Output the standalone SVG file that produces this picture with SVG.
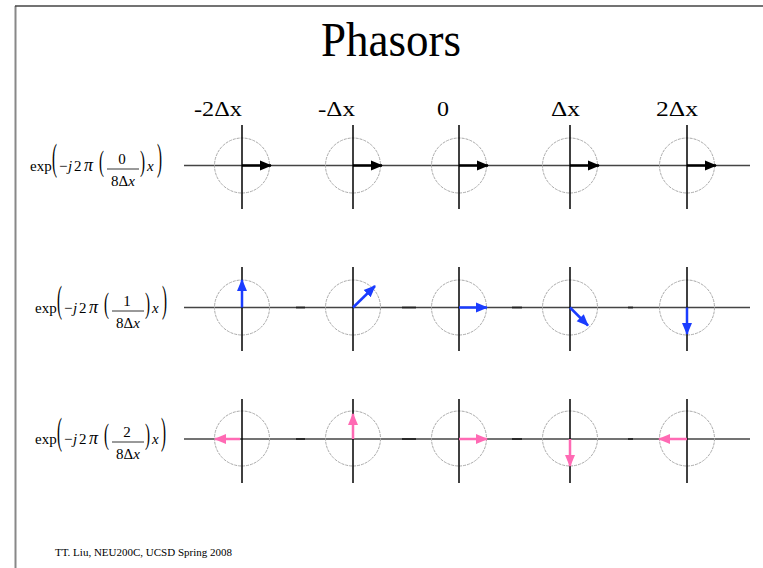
<svg xmlns="http://www.w3.org/2000/svg" width="763" height="568" viewBox="0 0 763 568">
<style>
text{font-family:"Liberation Serif","Times New Roman",serif;fill:#000}
.ax{stroke:#444;stroke-width:1.5;fill:none}
.vx{stroke:#000;stroke-width:1.5;fill:none}
.cir{stroke:#aaa;stroke-width:1;stroke-dasharray:3 1;fill:none}
.dash{stroke:#222;stroke-width:1.8}
.bk{stroke:#000;stroke-width:2.5;marker-end:url(#hk)}
.bl{stroke:#1a3cff;stroke-width:2.5;marker-end:url(#hb)}
.pk{stroke:#ff6ab4;stroke-width:2.5;marker-end:url(#hp)}
.f{font-size:15px}
.i{font-style:italic}
.pi{font-style:italic;font-size:18px}
.bar{stroke:#000;stroke-width:0.8}
</style>
<defs>
<marker id="hk" markerUnits="userSpaceOnUse" markerWidth="12" markerHeight="12" viewBox="0 0 12 12" refX="11" refY="6" orient="auto"><path d="M0,1 L12,6 L0,11 Z" fill="#000"/></marker>
<marker id="hb" markerUnits="userSpaceOnUse" markerWidth="12" markerHeight="12" viewBox="0 0 12 12" refX="11" refY="6" orient="auto"><path d="M0,1 L12,6 L0,11 Z" fill="#1a3cff"/></marker>
<marker id="hp" markerUnits="userSpaceOnUse" markerWidth="12" markerHeight="12" viewBox="0 0 12 12" refX="11" refY="6" orient="auto"><path d="M0,1 L12,6 L0,11 Z" fill="#ff6ab4"/></marker>
<g id="circ"><circle class="cir" cx="0" cy="0" r="27.5"/></g>
</defs>
<rect width="763" height="568" fill="#fff"/>
<g id="frame">
<line x1="15.5" y1="6" x2="15.5" y2="568" stroke="#888" stroke-width="2"/>
<line x1="15" y1="6" x2="763" y2="6" stroke="#444" stroke-width="1.5"/>
</g>
<g id="title"><text x="391" y="56" font-size="48" text-anchor="middle" textLength="140" lengthAdjust="spacingAndGlyphs">Phasors</text></g>
<g id="col-labels" font-size="22">
<text x="194" y="116" textLength="48" lengthAdjust="spacingAndGlyphs">-2Δx</text>
<text x="318" y="116" textLength="37" lengthAdjust="spacingAndGlyphs">-Δx</text>
<text x="437" y="116" textLength="12" lengthAdjust="spacingAndGlyphs">0</text>
<text x="551" y="116" textLength="29" lengthAdjust="spacingAndGlyphs">Δx</text>
<text x="656" y="116" textLength="42" lengthAdjust="spacingAndGlyphs">2Δx</text>
</g>
<g id="formula1">
<text class="f" x="30" y="171">exp</text>
<text class="f" x="52" y="171" transform="translate(0,-257) scale(1,2.5)">(</text>
<text class="f" x="59 68 74 84" y="171">−<tspan class="i">j</tspan>2<tspan class="pi">π</tspan></text>
<text class="f" x="99" y="171" transform="translate(0,-171) scale(1,2)">(</text>
<text class="f" x="122" y="164" text-anchor="middle">0</text>
<line class="bar" x1="107" y1="169" x2="139" y2="169"/>
<text class="f" x="123" y="186" text-anchor="middle">8Δ<tspan class="i">x</tspan></text>
<text class="f" x="140" y="171" transform="translate(0,-171) scale(1,2)">)</text>
<text class="f i" x="147" y="171">x</text>
<text class="f" x="157" y="171" transform="translate(0,-257) scale(1,2.5)">)</text>
</g>
<g id="formula2">
<text class="f" x="35" y="313">exp</text>
<text class="f" x="57" y="313" transform="translate(0,-470) scale(1,2.5)">(</text>
<text class="f" x="64 73 79 89" y="313">−<tspan class="i">j</tspan>2<tspan class="pi">π</tspan></text>
<text class="f" x="104" y="313" transform="translate(0,-313) scale(1,2)">(</text>
<text class="f" x="127" y="306" text-anchor="middle">1</text>
<line class="bar" x1="112" y1="311" x2="144" y2="311"/>
<text class="f" x="128" y="328" text-anchor="middle">8Δ<tspan class="i">x</tspan></text>
<text class="f" x="145" y="313" transform="translate(0,-313) scale(1,2)">)</text>
<text class="f i" x="152" y="313">x</text>
<text class="f" x="162" y="313" transform="translate(0,-470) scale(1,2.5)">)</text>
</g>
<g id="formula3">
<text class="f" x="35" y="444">exp</text>
<text class="f" x="57" y="444" transform="translate(0,-666) scale(1,2.5)">(</text>
<text class="f" x="64 73 79 89" y="444">−<tspan class="i">j</tspan>2<tspan class="pi">π</tspan></text>
<text class="f" x="104" y="444" transform="translate(0,-444) scale(1,2)">(</text>
<text class="f" x="127" y="437" text-anchor="middle">2</text>
<line class="bar" x1="112" y1="442" x2="144" y2="442"/>
<text class="f" x="128" y="459" text-anchor="middle">8Δ<tspan class="i">x</tspan></text>
<text class="f" x="145" y="444" transform="translate(0,-444) scale(1,2)">)</text>
<text class="f i" x="152" y="444">x</text>
<text class="f" x="161" y="444" transform="translate(0,-666) scale(1,2.5)">)</text>
</g>
<g id="row1">
<line class="ax" x1="184" y1="165.5" x2="750" y2="165.5"/>
<use href="#circ" x="242" y="165.5"/><use href="#circ" x="353" y="165.5"/><use href="#circ" x="459" y="165.5"/><use href="#circ" x="570" y="165.5"/><use href="#circ" x="687" y="165.5"/>
<line class="vx" x1="242" y1="125" x2="242" y2="209"/><line class="vx" x1="353" y1="125" x2="353" y2="209"/><line class="vx" x1="459" y1="125" x2="459" y2="209"/><line class="vx" x1="570" y1="125" x2="570" y2="209"/><line class="vx" x1="687" y1="125" x2="687" y2="209"/>
</g>
<g id="row2">
<line class="ax" x1="184" y1="307.5" x2="750" y2="307.5"/>
<line class="dash" x1="296" y1="307.5" x2="305" y2="307.5"/>
<line class="dash" x1="402" y1="307.5" x2="416" y2="307.5"/>
<line class="dash" x1="512" y1="307.5" x2="522" y2="307.5"/>
<line class="dash" x1="628" y1="307.5" x2="633" y2="307.5"/>
<use href="#circ" x="242" y="307.5"/><use href="#circ" x="353" y="307.5"/><use href="#circ" x="459" y="307.5"/><use href="#circ" x="570" y="307.5"/><use href="#circ" x="687" y="307.5"/>
<line class="vx" x1="242" y1="267" x2="242" y2="351"/><line class="vx" x1="353" y1="267" x2="353" y2="351"/><line class="vx" x1="459" y1="267" x2="459" y2="351"/><line class="vx" x1="570" y1="267" x2="570" y2="351"/><line class="vx" x1="687" y1="267" x2="687" y2="351"/>
</g>
<g id="row3">
<line class="ax" x1="184" y1="439" x2="750" y2="439"/>
<line class="dash" x1="296" y1="439" x2="305" y2="439"/>
<line class="dash" x1="402" y1="439" x2="416" y2="439"/>
<line class="dash" x1="512" y1="439" x2="522" y2="439"/>
<line class="dash" x1="628" y1="439" x2="633" y2="439"/>
<use href="#circ" x="242" y="438.5"/><use href="#circ" x="353" y="438.5"/><use href="#circ" x="459" y="438.5"/><use href="#circ" x="570" y="438.5"/><use href="#circ" x="687" y="438.5"/>
<line class="vx" x1="242" y1="399" x2="242" y2="483"/><line class="vx" x1="353" y1="399" x2="353" y2="483"/><line class="vx" x1="459" y1="399" x2="459" y2="483"/><line class="vx" x1="570" y1="399" x2="570" y2="483"/><line class="vx" x1="687" y1="399" x2="687" y2="483"/>
</g>
<g id="phasors">
<line class="bk" x1="242" y1="165.5" x2="271" y2="165.5"/>
<line class="bk" x1="353" y1="165.5" x2="382" y2="165.5"/>
<line class="bk" x1="459" y1="165.5" x2="488" y2="165.5"/>
<line class="bk" x1="570" y1="165.5" x2="599" y2="165.5"/>
<line class="bk" x1="687" y1="165.5" x2="716" y2="165.5"/>
<line class="bl" x1="242" y1="307.5" x2="242" y2="280"/>
<line class="bl" x1="353" y1="307.5" x2="375" y2="286"/>
<line class="bl" x1="459" y1="307.5" x2="487" y2="307.5"/>
<line class="bl" x1="570" y1="307.5" x2="588" y2="325.5"/>
<line class="bl" x1="687" y1="307.5" x2="687" y2="334"/>
<line class="pk" x1="240" y1="439" x2="215" y2="439"/>
<line class="pk" x1="353" y1="439" x2="353" y2="414"/>
<line class="pk" x1="459" y1="439" x2="487" y2="439"/>
<line class="pk" x1="570" y1="439" x2="570" y2="466"/>
<line class="pk" x1="687" y1="439" x2="659" y2="439"/>
</g>
<g id="footer"><text x="55" y="556" font-size="10.5" textLength="177" lengthAdjust="spacingAndGlyphs">TT. Liu, NEU200C, UCSD Spring 2008</text></g>
</svg>
